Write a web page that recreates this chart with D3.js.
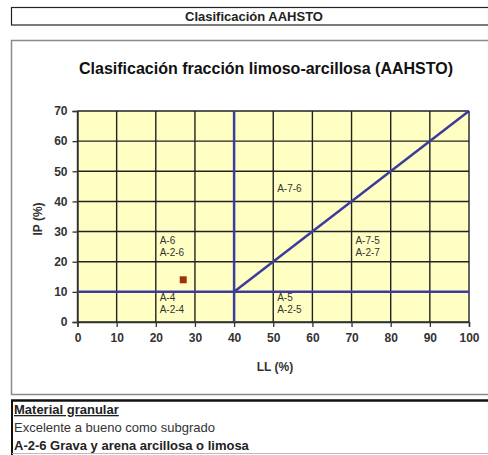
<!DOCTYPE html>
<html>
<head>
<meta charset="utf-8">
<script src="https://cdn.jsdelivr.net/npm/d3@7"></script>
<style>
  html, body { margin: 0; padding: 0; background: #fff; overflow: hidden; }
  svg { display: block; font-family: Arial, "Liberation Sans", sans-serif; }
</style>
</head>
<body>
<svg id="chart" width="488" height="455"></svg>
<script>
// Axis ticks
const llTicks = [0, 10, 20, 30, 40, 50, 60, 70, 80, 90, 100];
const ipTicks = [0, 10, 20, 30, 40, 50, 60, 70];

// Classification boundaries (LL, IP)
const lineIP10 = [[0, 10], [100, 10]];
const lineLL40 = [[40, 0], [40, 70]];
const lineDiag = [[40, 10], [100, 70]];

// Sample point (LL, IP)
const sampleLL = [27];
const sampleIP = [14];

// Zone labels: [LL, IP, lines]
const zoneLabels = [
  [21, 26, ["A-6", "A-2-6"]],
  [21, 7, ["A-4", "A-2-4"]],
  [51, 43, ["A-7-6"]],
  [71, 26, ["A-7-5", "A-2-7"]],
  [51, 7, ["A-5", "A-2-5"]]
];

const heading = "Clasificación AAHSTO";
const chartTitle = "Clasificación fracción limoso-arcillosa (AAHSTO)";
const infoLines = ["Material granular", "Excelente a bueno como subgrado", "A-2-6 Grava y arena arcillosa o limosa"];

const svg = d3.select("#chart");

// Heading box
svg.append("rect").attr("x", 11.5).attr("y", 7.5).attr("width", 490).attr("height", 17.5)
  .attr("fill", "#fff").attr("stroke", "#222").attr("stroke-width", 1.2);
svg.append("text").attr("x", 254).attr("y", 20.5).attr("text-anchor", "middle")
  .attr("font-size", 13).attr("font-weight", "bold").attr("fill", "#222").text(heading);

// Chart frame
svg.append("rect").attr("x", 11.5).attr("y", 40.5).attr("width", 490).attr("height", 354)
  .attr("fill", "#fff").attr("stroke", "#8a8a8a").attr("stroke-width", 1.5);

svg.append("text").attr("x", 266).attr("y", 74).attr("text-anchor", "middle")
  .attr("font-size", 16).attr("font-weight", "bold").attr("fill", "#111").text(chartTitle);

const x = d3.scaleLinear().domain([0, 100]).range([77.5, 469]);
const y = d3.scaleLinear().domain([0, 70]).range([322, 111]);

// Plot background
svg.append("rect").attr("x", x(0)).attr("y", y(70)).attr("width", x(100) - x(0)).attr("height", y(0) - y(70))
  .attr("fill", "#ffffc4");

// Grid
const grid = svg.append("g").attr("stroke", "#222").attr("stroke-width", 1.4);
grid.selectAll(".gx").data(llTicks).join("line")
  .attr("x1", d => x(d)).attr("x2", d => x(d)).attr("y1", y(0)).attr("y2", y(70));
grid.selectAll(".gy").data(ipTicks).join("line")
  .attr("x1", x(0)).attr("x2", x(100)).attr("y1", d => y(d)).attr("y2", d => y(d));

// Axes
const xAxis = svg.append("g").attr("transform", `translate(0,${y(0)})`)
  .call(d3.axisBottom(x).tickValues(llTicks).tickSize(5).tickPadding(6).tickFormat(d3.format("d")));
const yAxis = svg.append("g").attr("transform", `translate(${x(0)},0)`)
  .call(d3.axisLeft(y).tickValues(ipTicks).tickSize(5).tickPadding(5).tickFormat(d3.format("d")));
[xAxis, yAxis].forEach(a => {
  a.select(".domain").attr("stroke", "#333").attr("stroke-width", 1.4);
  a.selectAll(".tick line").attr("stroke", "#333").attr("stroke-width", 1.3);
  a.selectAll(".tick text").attr("font-size", 12).attr("font-weight", "bold").attr("fill", "#333")
    .attr("font-family", "Arial, 'Liberation Sans', sans-serif");
});
yAxis.selectAll(".tick line").attr("x1", -5).attr("x2", 0);

// Boundary lines
const line = d3.line().x(d => x(d[0])).y(d => y(d[1]));
svg.selectAll(".bound").data([lineIP10, lineLL40, lineDiag]).join("path")
  .attr("d", line).attr("fill", "none").attr("stroke", "#3c3c9c").attr("stroke-width", 2.5);

// Zone labels
zoneLabels.forEach(([ll, ip, lines]) => {
  const t = svg.append("text").attr("x", x(ll)).attr("y", y(ip))
    .attr("font-size", 10).attr("fill", "#333");
  lines.forEach((s, i) => t.append("tspan").attr("x", x(ll)).attr("dy", i === 0 ? 0 : 12).text(s));
});

// Sample point
svg.selectAll(".pt").data(sampleLL.map((d, i) => [d, sampleIP[i]])).join("rect")
  .attr("x", d => x(d[0]) - 3.5).attr("y", d => y(d[1]) - 3.5).attr("width", 7).attr("height", 7)
  .attr("fill", "#a0300c");

// Axis titles
svg.append("text").attr("transform", "translate(42,219) rotate(-90)").attr("text-anchor", "middle")
  .attr("font-size", 12).attr("font-weight", "bold").attr("fill", "#333").text("IP (%)");
svg.append("text").attr("x", 275).attr("y", 371).attr("text-anchor", "middle")
  .attr("font-size", 12).attr("font-weight", "bold").attr("fill", "#333").text("LL (%)");

// Info box
svg.append("rect").attr("x", 12).attr("y", 401).attr("width", 490).attr("height", 52)
  .attr("fill", "#fff").attr("stroke", "none");
svg.append("line").attr("x1", 11).attr("x2", 488).attr("y1", 400.5).attr("y2", 400.5).attr("stroke", "#111").attr("stroke-width", 2.5);
svg.append("line").attr("x1", 12).attr("x2", 12).attr("y1", 400).attr("y2", 455).attr("stroke", "#111").attr("stroke-width", 2);
svg.append("line").attr("x1", 12).attr("x2", 488).attr("y1", 453.5).attr("y2", 453.5).attr("stroke", "#bbb").attr("stroke-width", 1);

svg.append("text").attr("x", 14).attr("y", 414).attr("font-size", 13).attr("font-weight", "bold")
  .attr("fill", "#222").attr("text-decoration", "underline").text(infoLines[0]);
svg.append("text").attr("x", 14).attr("y", 432).attr("font-size", 13)
  .attr("fill", "#333").text(infoLines[1]);
svg.append("text").attr("x", 14).attr("y", 450).attr("font-size", 13).attr("font-weight", "bold")
  .attr("fill", "#222").text(infoLines[2]);
</script>
</body>
</html>
